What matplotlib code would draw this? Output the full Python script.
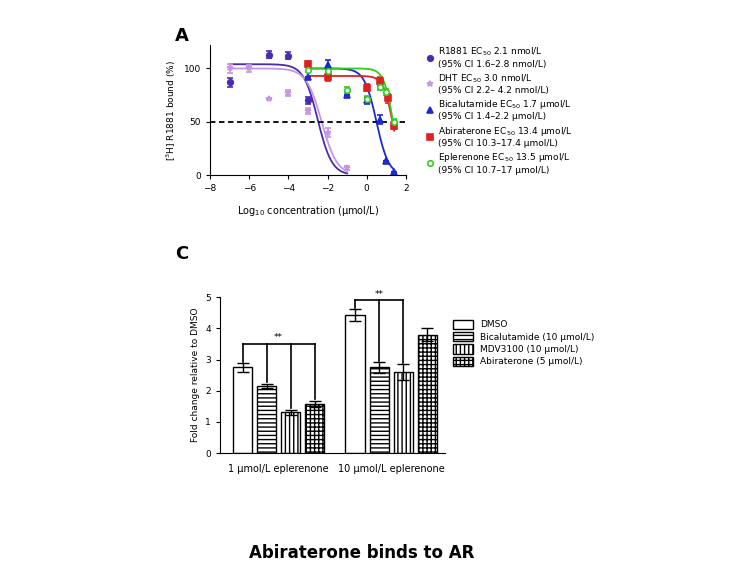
import numpy as np
import matplotlib
matplotlib.use("Agg")
import matplotlib.pyplot as plt
from matplotlib.lines import Line2D

# Panel A data
r1881_x = [-7, -5, -4, -3]
r1881_y = [87, 113, 112, 70]
r1881_e = [4, 3, 3, 3]
dht_x = [-7, -6, -5, -4, -3, -2, -1]
dht_y = [100, 100, 71, 77, 60, 40, 7]
dht_e = [4, 3, 0, 3, 3, 4, 2]
bic_x = [-3, -2, -1, 0, 0.7, 1.0, 1.4]
bic_y = [92, 103, 75, 70, 52, 13, 3]
bic_e = [0, 5, 0, 3, 4, 0, 0]
abi_x = [-3, -2, 0, 0.7, 1.1, 1.4]
abi_y = [104, 92, 82, 88, 72, 46]
abi_e = [3, 4, 3, 4, 4, 3]
epl_x = [-3, -2, -1, 0, 0.7, 1.0, 1.4]
epl_y = [99, 98, 80, 71, 83, 78, 50]
epl_e = [2, 3, 3, 3, 3, 3, 3]
fit_top = [104, 100, 100, 93, 100]
fit_logec50 = [-2.5, -2.3, 0.5, 1.35, 1.35]
fit_hill = [1.2, 1.1, 1.4, 1.8, 1.8]
fit_range = [(-7, -1), (-7, -1), (-3, 1.4), (-3, 1.4), (-3, 1.4)]
labels_A = ["R1881 EC$_{50}$ 2.1 nmol/L\n(95% CI 1.6\u20132.8 nmol/L)",
            "DHT EC$_{50}$ 3.0 nmol/L\n(95% CI 2.2\u2013 4.2 nmol/L)",
            "Bicalutamide EC$_{50}$ 1.7 \u03bcmol/L\n(95% CI 1.4\u20132.2 \u03bcmol/L)",
            "Abiraterone EC$_{50}$ 13.4 \u03bcmol/L\n(95% CI 10.3\u201317.4 \u03bcmol/L)",
            "Eplerenone EC$_{50}$ 13.5 \u03bcmol/L\n(95% CI 10.7\u201317 \u03bcmol/L)"]
colors_A = ["#4b2bb0", "#c596e6", "#1b2bd0", "#e02020", "#33cc22"]

# Panel C data
groups = ["1 \u03bcmol/L eplerenone", "10 \u03bcmol/L eplerenone"]
treatments = ["DMSO", "Bicalutamide (10 \u03bcmol/L)", "MDV3100 (10 \u03bcmol/L)", "Abiraterone (5 \u03bcmol/L)"]
vals = [[2.75, 2.15, 1.32, 1.58], [4.43, 2.75, 2.6, 3.8]]
errs = [[0.15, 0.07, 0.08, 0.1], [0.2, 0.17, 0.25, 0.2]]
hatches = ["", "----", "||||", "++++"]

fig = plt.figure(figsize=(7.53, 5.84), dpi=100)
fs = 6.5

# ---- Panel A
ax = fig.add_axes([0.279, 0.700, 0.260, 0.223])
data = [(r1881_x, r1881_y, r1881_e, "o", True),
        (dht_x, dht_y, dht_e, "*", True),
        (bic_x, bic_y, bic_e, "^", True),
        (abi_x, abi_y, abi_e, "s", True),
        (epl_x, epl_y, epl_e, "o", False)]
handles = []
for i, (x, y, e, m, filled) in enumerate(data):
    c = colors_A[i]
    ax.errorbar(x, y, yerr=e, fmt=m, color=c, ms=4,
                mfc=c if filled else "white", mec=c, mew=1.2,
                capsize=2, elinewidth=1.2)
    handles.append(Line2D([], [], ls="", marker=m, color=c, ms=4,
                          mfc=c if filled else "white", mec=c, mew=1.2, label=labels_A[i]))
    xs = np.linspace(fit_range[i][0], fit_range[i][1], 200)
    ax.plot(xs, fit_top[i] / (1 + 10 ** (fit_hill[i] * (xs - fit_logec50[i]))), color=c, lw=1.3)
ax.axhline(50, color="black", ls="--", lw=1.3, dashes=(3, 2))
ax.set_xlim(-8, 2)
ax.set_ylim(0, 122)
ax.set_xticks([-8, -6, -4, -2, 0, 2])
ax.set_yticks([0, 50, 100])
ax.spines["top"].set_visible(False)
ax.spines["right"].set_visible(False)
ax.tick_params(labelsize=fs, length=3)
ax.set_xlabel("Log$_{10}$ concentration (\u03bcmol/L)", fontsize=fs + 0.5, labelpad=8)
ax.set_ylabel("[$^3$H] R1881 bound (%)", fontsize=fs)
ax.legend(handles=handles, loc="upper left", bbox_to_anchor=(1.08, 1.02), frameon=False,
          fontsize=fs, handletextpad=0.4, labelspacing=0.35, handlelength=1.0,
          borderaxespad=0)
fig.text(0.232, 0.930, "A", fontsize=13, fontweight="bold")

# ---- Panel C
ax2 = fig.add_axes([0.292, 0.224, 0.299, 0.267])
starts = [0, 4.67]
bh = []
for g in range(2):
    for t in range(4):
        b = ax2.bar(starts[g] + t, vals[g][t], width=0.8, yerr=errs[g][t],
                    color="white", edgecolor="black", hatch=hatches[t], lw=1.0,
                    capsize=4, error_kw=dict(elinewidth=1, capthick=1),
                    label=treatments[t] if g == 0 else None)
        if g == 0:
            bh.append(b)

def bracket(x0, idxs, yb, g):
    xs = [x0 + k for k in idxs]
    ax2.plot([xs[0], xs[-1]], [yb, yb], color="black", lw=1.2)
    for k, xx in zip(idxs, xs):
        ax2.plot([xx, xx], [yb, vals[g][k] + errs[g][k] + (0.02 if k == 0 else 0.05)], color="black", lw=1.2)
    ax2.text((xs[0] + xs[-1]) / 2, yb + 0.12, "**", ha="center", fontsize=fs)

bracket(starts[0], [0, 1, 2, 3], 3.5, 0)
bracket(starts[1], [0, 1, 2], 4.9, 1)
ax2.set_xlim(-0.94, 8.4)
ax2.set_ylim(0, 5)
ax2.set_yticks([0, 1, 2, 3, 4, 5])
ax2.set_xticks([1.5, starts[1] + 1.5])
ax2.set_xticklabels(groups, fontsize=fs + 0.5)
ax2.tick_params(axis="x", length=0, pad=8)
ax2.tick_params(axis="y", labelsize=fs, length=3)
ax2.spines["top"].set_visible(False)
ax2.spines["right"].set_visible(False)
ax2.set_ylabel("Fold change relative to DMSO", fontsize=fs)
ax2.legend(handles=bh, loc="upper left", bbox_to_anchor=(1.02, 0.88), frameon=False,
           fontsize=fs, handlelength=2.2, handleheight=1.2, labelspacing=0.3, borderaxespad=0)
fig.text(0.232, 0.556, "C", fontsize=13, fontweight="bold")

fig.text(0.48, 0.045, "Abiraterone binds to AR", fontsize=12, fontweight="bold", ha="center")
fig.savefig("out.png", dpi=100)
